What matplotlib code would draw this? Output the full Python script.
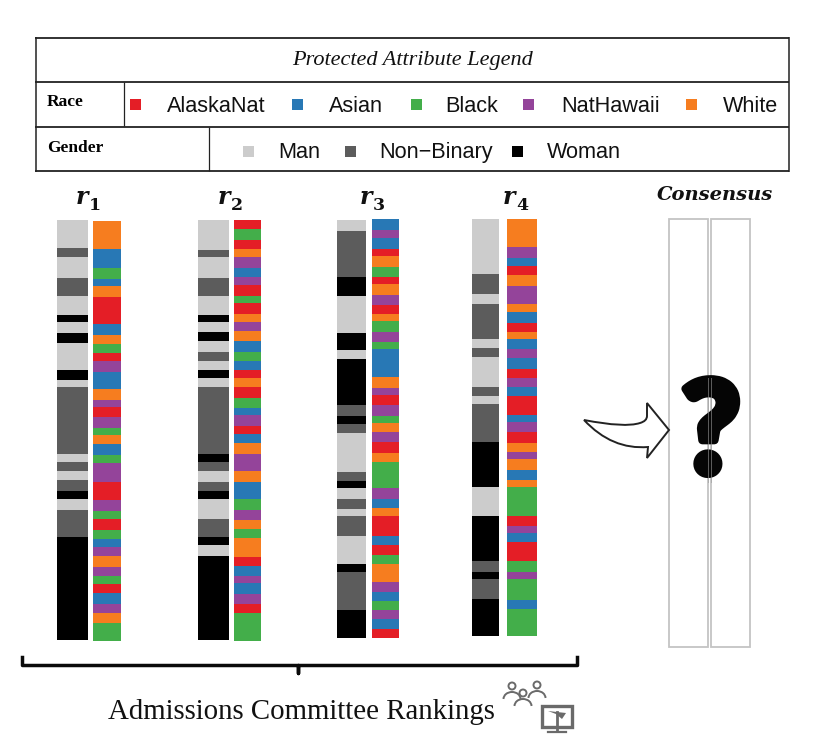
import matplotlib
matplotlib.use("Agg")
import matplotlib.pyplot as plt
import matplotlib.patheffects as pe
from matplotlib.patches import Polygon, PathPatch, Circle, Rectangle, Arc
from matplotlib.path import Path

# ---- data: category runs and their lengths in each ranking ----
race_names = ["AlaskaNat", "Asian", "Black", "NatHawaii", "White"]
race_colors = ["#e41e26", "#2878b5", "#43ae4a", "#94449a", "#f67d1f"]
gender_names = ["Man", "Non\u2212Binary", "Woman"]
gender_colors = ["#cccccc", "#5c5c5c", "#000000"]

r1_gender = list("MNMNMWMWMWMNMNMNWMNW")
r1_gender_len = [28, 9, 21, 18, 19, 7, 11, 10, 27, 10, 7, 67, 8, 9, 9, 11, 8, 11, 27, 103]
r1_race = list("OBGBORBOGRPBOPRPGOBGPRPGRGBPOPGRBPOG")
r1_race_len = [28, 19, 11, 7, 11, 27, 11, 9, 9, 8, 11, 17, 11, 7, 10, 11, 7, 9, 11, 8, 19, 18, 11, 8, 11, 9, 8, 9, 11, 9, 8, 9, 11, 9, 10, 18]

r2_gender = list("MNMNMWMWMNMWMNWNMNWMNWMW")
r2_gender_len = [30, 7, 21, 18, 19, 7, 10, 9, 11, 9, 9, 8, 9, 67, 8, 9, 11, 9, 8, 20, 18, 8, 11, 84]
r2_race = list("RGROPBPRGROPOBGBRORGBPRBOPOBGPOGORBPBPRG")
r2_race_len = [9, 11, 9, 8, 11, 9, 8, 11, 7, 11, 8, 9, 10, 11, 9, 9, 8, 9, 11, 10, 7, 11, 8, 9, 11, 17, 11, 17, 11, 10, 9, 9, 19, 9, 10, 7, 11, 10, 9, 28]

r3_gender = list("MNWMWMWNWNMNWMNMNMWNW")
r3_gender_len = [11, 46, 19, 37, 17, 9, 46, 11, 8, 9, 39, 9, 7, 11, 10, 7, 20, 28, 8, 38, 28]
r3_race = list("BPBROGROPROGPGBOPRPGOPROGPBORBRGOPBGPBR")
r3_race_len = [11, 8, 11, 7, 11, 10, 7, 11, 10, 9, 7, 11, 10, 7, 28, 11, 7, 10, 11, 7, 9, 10, 11, 9, 26, 11, 9, 8, 20, 9, 10, 9, 18, 10, 9, 9, 9, 10, 9]

r4_gender = list("MNMNMNMNMNWMWNWNW")
r4_gender_len = [55, 20, 10, 35, 9, 9, 30, 9, 8, 38, 45, 29, 45, 11, 7, 20, 37]
r4_race = list("OPBROPOBROBPBRPBRBPROPOBOGRPBRGPGBG")
r4_race_len = [28, 11, 8, 9, 11, 18, 8, 11, 9, 7, 10, 9, 11, 9, 9, 9, 19, 7, 10, 11, 9, 7, 11, 10, 7, 29, 10, 7, 9, 19, 11, 7, 21, 9, 27]

rank_titles = ["1", "2", "3", "4"]
race_code = dict(zip("RBGPO", race_colors))
gender_code = dict(zip("MNW", gender_colors))

plt.rcParams["font.family"] = ["Liberation Sans", "DejaVu Sans"]
fig = plt.figure(figsize=(8.22, 7.46), dpi=100)
ax = fig.add_axes([0, 0, 1, 1])
ax.set_xlim(0, 822)
ax.set_ylim(746, 0)
ax.axis("off")


def stack(codes, lengths, cmap, x0, x1, top):
    y = top
    for c, h in zip(codes, lengths):
        ax.bar(x0, h, width=x1 - x0, bottom=y, align="edge", color=cmap[c], linewidth=0)
        y += h


stack(r1_gender, r1_gender_len, gender_code, 57, 88, 220)
stack(r1_race, r1_race_len, race_code, 93, 121, 221)
stack(r2_gender, r2_gender_len, gender_code, 198, 229, 220)
stack(r2_race, r2_race_len, race_code, 234, 261, 220)
stack(r3_gender, r3_gender_len, gender_code, 337, 366, 220)
stack(r3_race, r3_race_len, race_code, 372, 399, 219)
stack(r4_gender, r4_gender_len, gender_code, 472, 499, 219)
stack(r4_race, r4_race_len, race_code, 507, 537, 219)

# legend table
lc = "#222222"
for y in (37.5, 81.5, 126.5, 171):
    ax.plot([35, 789], [y, y], color=lc, lw=1.3, solid_capstyle="butt")
for x in (35.5, 788.5):
    ax.plot([x, x], [37, 171.5], color=lc, lw=1.1, solid_capstyle="butt")
ax.plot([124, 124], [82, 126], color=lc, lw=0.9, solid_capstyle="butt")
ax.plot([209, 209], [127, 171], color=lc, lw=0.9, solid_capstyle="butt")

ax.text(412.5, 60, "Protected Attribute Legend", family="Liberation Serif", style="italic",
        fontsize=16, ha="center", va="center", color="#111111")
ax.text(47, 102, "Race", family="Liberation Serif", weight="bold", fontsize=12.5, va="center")
ax.text(47, 147.5, "Gender", family="Liberation Serif", weight="bold", fontsize=12.5, va="center")

race_sq = [135, 297, 416, 528, 691]
race_tx = [167, 329, 445, 561, 723]
for n, c, sx, tx in zip(race_names, race_colors, race_sq, race_tx):
    ax.add_patch(Rectangle((sx - 5, 99), 11, 11, color=c, lw=0))
    ax.text(tx, 107, n, fontsize=15.6, va="center", color="#111111")
gender_sq = [248, 350, 517]
gender_tx = [278, 379, 547]
for n, c, sx, tx in zip(gender_names, gender_colors, gender_sq, gender_tx):
    ax.add_patch(Rectangle((sx - 5, 146), 11, 11, color=c, lw=0))
    ax.text(tx, 152.5, n, fontsize=15.6, va="center", color="#111111")

# column titles
for t, x in zip(rank_titles, [76, 218, 360, 503]):
    ax.text(x, 197, "r", family="DejaVu Serif", style="italic", weight="bold", fontsize=17,
            ha="left", va="center", color="#111111")
    ax.text(x + 13, 205, t, family="DejaVu Serif", weight="bold", fontsize=12.5,
            ha="left", va="center", color="#111111")
ax.text(715, 195, "Consensus", family="DejaVu Serif", style="italic", weight="bold", fontsize=14,
        ha="center", va="center", color="#111111")

# consensus boxes
for x0, x1 in ((669, 708), (711, 750)):
    ax.add_patch(Rectangle((x0, 219), x1 - x0, 428, fill=False, ec="#c4c4c4", lw=1.3))
ax.text(711, 436, "?", family="Lato", weight="black", fontsize=92, ha="center",
        va="center", color="#050505", zorder=3,
        path_effects=[pe.withStroke(linewidth=6, foreground="#050505")])
for x in (708, 711):
    ax.plot([x, x], [378, 482], color="#9a9a9a", lw=0.7, alpha=0.6, zorder=4)

# arrow
verts = [(584, 420), (625, 428), (640, 423), (647, 421), (647, 416), (647, 403), (669, 430), (647, 458),
         (648, 447), (612, 450), (584, 420), (584, 420)]
codes = [Path.MOVETO, Path.CURVE3, Path.CURVE3, Path.CURVE3, Path.CURVE3, Path.LINETO, Path.LINETO,
         Path.LINETO, Path.LINETO, Path.CURVE3, Path.CURVE3, Path.CLOSEPOLY]
ax.add_patch(PathPatch(Path(verts, codes), fc="white", ec="#222222", lw=1.4, zorder=2))

# bracket
ax.plot([21.5, 21.5, 298, 298, 298, 577, 577], [657, 665, 665, 673, 665, 665, 657],
        color="#0a0a0a", lw=2.5, solid_joinstyle="round")
ax.text(301.5, 712, "Admissions Committee Rankings", family="Liberation Serif", fontsize=20.8,
        ha="center", va="center", color="#111111")

# people and monitor icon
ic = "#6a6a6a"
for cx, cy in ((512, 686), (537, 685), (523, 693)):
    ax.add_patch(Circle((cx, cy), 3.5, fill=False, ec=ic, lw=1.4))
    ax.add_patch(Arc((cx, cy + 13), 17, 14, theta1=180, theta2=360, ec=ic, lw=1.4))
ax.add_patch(Rectangle((542, 706), 30, 21, fc="white", ec=ic, lw=2.4))
ax.plot([557, 557], [712, 731], color=ic, lw=2)
ax.plot([548, 566], [732, 732], color=ic, lw=1.6)
ax.add_patch(Polygon([(548, 711), (566, 713), (562, 719), (556, 714)], color=ic, lw=0))

fig.savefig("out.png", dpi=100)
